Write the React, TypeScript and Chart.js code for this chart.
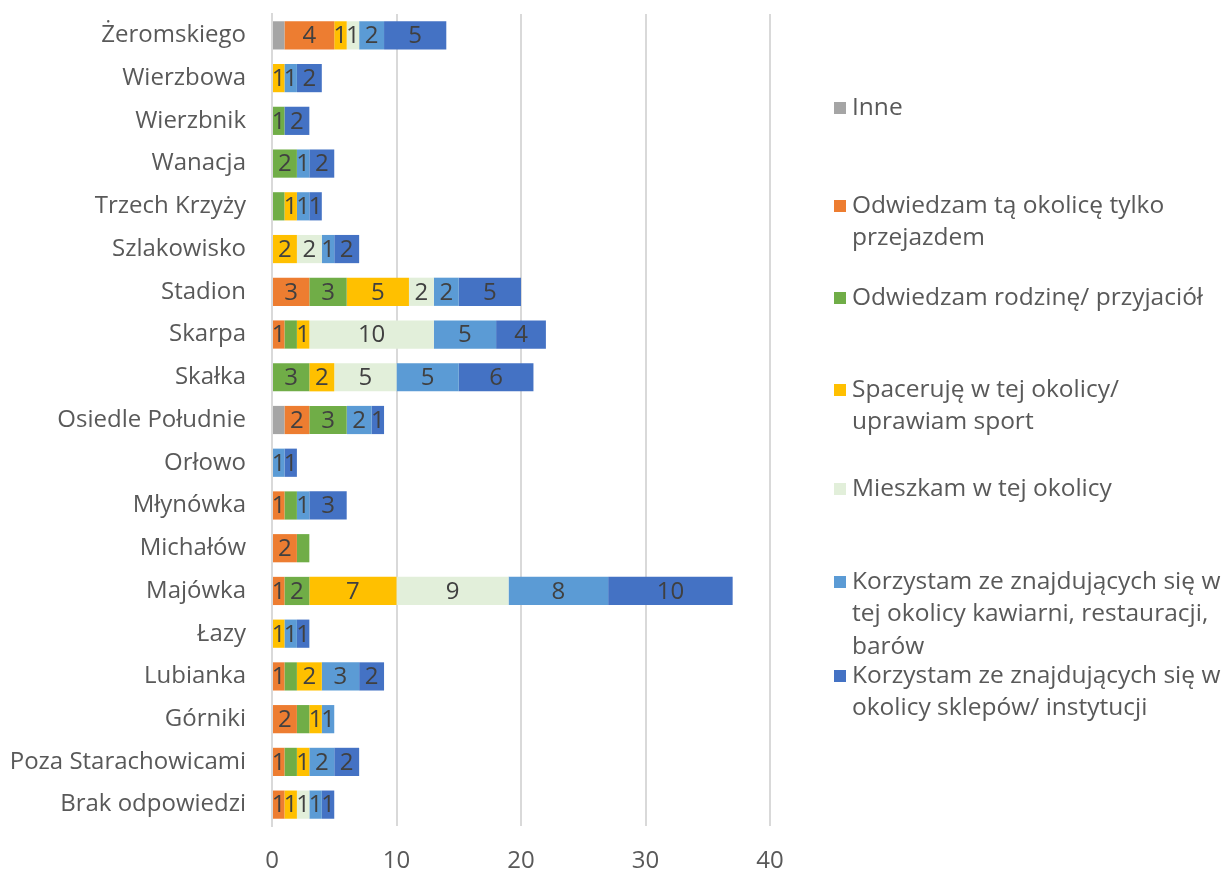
import React, { useEffect, useRef } from "react";
import { Chart, registerables } from "chart.js";

Chart.register(...registerables);

const categories = [
  "Żeromskiego", "Wierzbowa", "Wierzbnik", "Wanacja", "Trzech Krzyży", "Szlakowisko",
  "Stadion", "Skarpa", "Skałka", "Osiedle Południe", "Orłowo", "Młynówka", "Michałów",
  "Majówka", "Łazy", "Lubianka", "Górniki", "Poza Starachowicami", "Brak odpowiedzi",
];

const seriesNames = [
  ["Inne"],
  ["Odwiedzam tą okolicę tylko", "przejazdem"],
  ["Odwiedzam rodzinę/ przyjaciół"],
  ["Spaceruję w tej okolicy/", "uprawiam sport"],
  ["Mieszkam w tej okolicy"],
  ["Korzystam ze znajdujących się w", "tej okolicy kawiarni, restauracji,", "barów"],
  ["Korzystam ze znajdujących się w", "okolicy sklepów/ instytucji"],
];

const inne = [1, 0, 0, 0, 0, 0, 0, 0, 0, 1, 0, 0, 0, 0, 0, 0, 0, 0, 0];
const przejazdem = [4, 0, 0, 0, 0, 0, 3, 1, 0, 2, 0, 1, 2, 1, 0, 1, 2, 1, 1];
const rodzina = [0, 0, 1, 2, 1, 0, 3, 1, 3, 3, 0, 1, 1, 2, 0, 1, 1, 1, 0];
const spaceruje = [1, 1, 0, 0, 1, 2, 5, 1, 2, 0, 0, 0, 0, 7, 1, 2, 1, 1, 1];
const mieszkam = [1, 0, 0, 0, 0, 2, 2, 10, 5, 0, 0, 0, 0, 9, 0, 0, 0, 0, 1];
const kawiarnie = [2, 1, 0, 1, 1, 1, 2, 5, 5, 2, 1, 1, 0, 8, 1, 3, 1, 2, 1];
const sklepy = [5, 2, 2, 2, 1, 2, 5, 4, 6, 1, 1, 3, 0, 10, 1, 2, 0, 2, 1];

const seriesValues = [inne, przejazdem, rodzina, spaceruje, mieszkam, kawiarnie, sklepy];
const seriesColors = ["#A5A5A5", "#ED7D31", "#70AD47", "#FFC000", "#E2EFDA", "#5B9BD5", "#4472C4"];

const xTicks = [0, 10, 20, 30, 40];

// [category, series index] whose value labels are not shown in the source
const hiddenLabels: [string, number][] = [
  ["Żeromskiego", 0], ["Trzech Krzyży", 2], ["Skarpa", 2], ["Osiedle Południe", 0],
  ["Młynówka", 2], ["Michałów", 2], ["Lubianka", 2], ["Górniki", 2], ["Poza Starachowicami", 2],
];

const FONT = "'Open Sans', Lato, sans-serif";
const TEXT = "#595959";
const LABEL = "#404040";

export default function App() {
  const ref = useRef<HTMLCanvasElement | null>(null);

  useEffect(() => {
    if (!ref.current) return;

    const labelPlugin = {
      id: "segLabels",
      afterDatasetsDraw(chart: any) {
        const ctx = chart.ctx;
        ctx.save();
        ctx.font = `24px ${FONT}`;
        ctx.fillStyle = LABEL;
        ctx.textAlign = "center";
        ctx.textBaseline = "middle";
        chart.data.datasets.forEach((ds: any, di: number) => {
          const meta = chart.getDatasetMeta(di);
          meta.data.forEach((el: any, i: number) => {
            const v = ds.data[i];
            if (!v) return;
            const cat = categories[i];
            if (hiddenLabels.some(([c, s]) => c === cat && s === di)) return;
            const cx = (el.x + el.base) / 2;
            ctx.fillText(String(v), cx, el.y + 1);
          });
        });
        ctx.restore();
      },
    };

    const legendPlugin = {
      id: "sideLegend",
      afterDraw(chart: any) {
        const ctx = chart.ctx;
        ctx.save();
        ctx.font = `24.5px ${FONT}`;
        ctx.textAlign = "left";
        ctx.textBaseline = "middle";
        const starts = [108, 206, 298, 390, 489, 582, 676];
        const lh = 32.5;
        seriesNames.forEach((lines, i) => {
          const y0 = starts[i];
          ctx.fillStyle = seriesColors[i];
          ctx.fillRect(834, y0 - 6, 12, 12);
          ctx.fillStyle = TEXT;
          lines.forEach((t, j) => ctx.fillText(t, 852, y0 + j * lh));
        });
        ctx.restore();
      },
    };

    const chart = new Chart(ref.current, {
      type: "bar",
      data: {
        labels: categories,
        datasets: seriesValues.map((vals, i) => ({
          label: seriesNames[i].join(" "),
          data: vals,
          backgroundColor: seriesColors[i],
          borderWidth: 0,
          barPercentage: 0.66,
          categoryPercentage: 1,
        })),
      },
      options: {
        indexAxis: "y",
        animation: false,
        responsive: true,
        maintainAspectRatio: false,
        layout: { padding: { top: 14, right: 453, bottom: 0, left: 0 } },
        plugins: { legend: { display: false }, tooltip: { enabled: false } },
        scales: {
          x: {
            stacked: true,
            min: 0,
            max: 40,
            afterBuildTicks: (scale: any) => {
              scale.ticks = xTicks.map((v) => ({ value: v }));
            },
            afterFit: (scale: any) => {
              scale.height = 48;
              scale.paddingLeft = 0;
              scale.paddingRight = 0;
            },
            grid: { color: "#D9D9D9", lineWidth: 2, drawTicks: false },
            border: { display: false },
            ticks: { color: TEXT, font: { family: FONT, size: 24 }, padding: 21 },
          },
          y: {
            stacked: true,
            afterFit: (scale: any) => {
              scale.width = 272;
              scale.paddingTop = 0;
              scale.paddingBottom = 0;
            },
            grid: { display: false, drawTicks: false },
            border: { display: true, color: "#D9D9D9", width: 2 },
            ticks: { color: TEXT, font: { family: FONT, size: 24 }, padding: 26, autoSkip: false },
          },
        },
      },
      plugins: [labelPlugin, legendPlugin],
    });

    return () => chart.destroy();
  }, []);

  return (
    <div style={{ position: "fixed", left: 0, top: 0, width: 1223, height: 874, background: "#fff" }}>
      <canvas ref={ref} />
    </div>
  );
}
